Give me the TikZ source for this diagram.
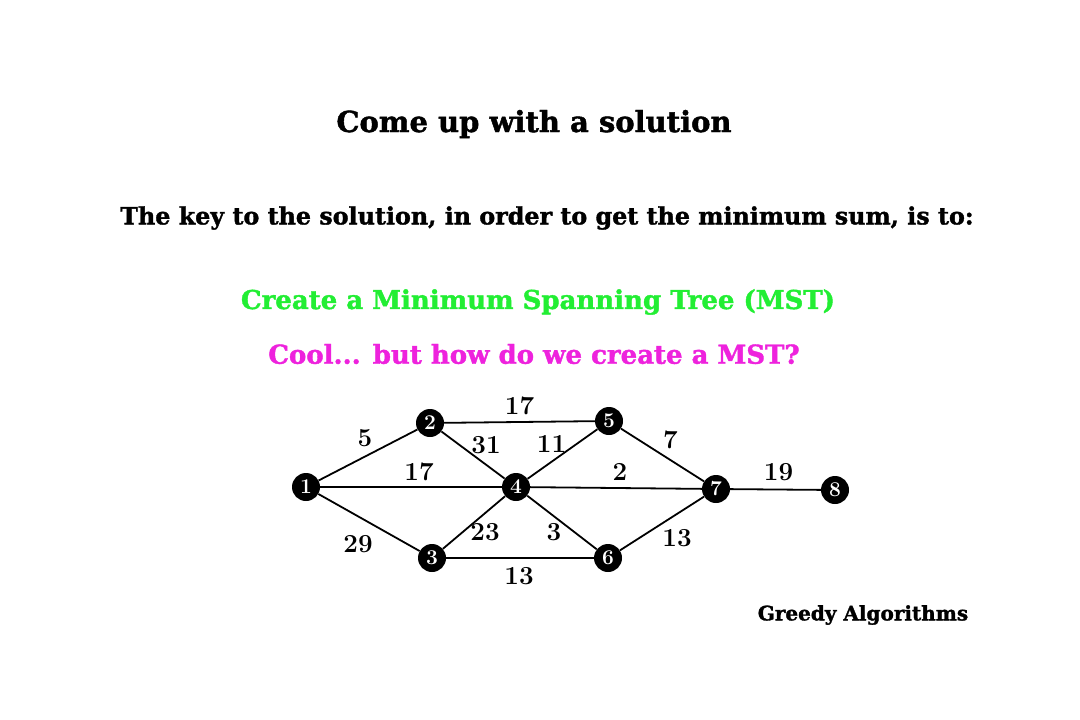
\documentclass[tikz,border=0pt]{standalone}
\usepackage{fontspec}
\newfontfamily\headfont{DejaVu Serif}[BoldFeatures={FakeBold=1.5}]
\usetikzlibrary{positioning}
\definecolor{mstgreen}{HTML}{22EE33}
\definecolor{mstpink}{HTML}{EE22DD}

\begin{document}
\begin{tikzpicture}[
    x=1pt, y=-1pt,
    head/.style={font=\headfont\bfseries\fontsize{29}{33}\selectfont, inner sep=0pt},
    sub/.style={font=\headfont\bfseries\fontsize{23.8}{27}\selectfont, inner sep=0pt},
    vtx/.style={circle, fill=black, inner sep=0pt, minimum size=28pt, text=white, font=\bfseries\fontsize{21}{21}\selectfont},
    lbl/.style={font=\bfseries\fontsize{26}{26}\selectfont, inner sep=0pt},
    edge/.style={draw, line width=1.8pt}
]
    \useasboundingbox[fill=white] (0,0) rectangle (1080,720);

    % headings
    \node[head] (title) at (534,124) {Come up with a solution};
    \node[sub] (key) at (547,218) {The key to the solution, in order to get the minimum sum, is to:};
    \node[sub, text=mstgreen, font=\headfont\bfseries\fontsize{26}{30}\selectfont] (mst) at (538,302) {Create a Minimum Spanning Tree (MST)};
    \node[sub, text=mstpink, font=\headfont\bfseries\fontsize{26}{30}\selectfont] (cool) at (534,354) {Cool... but how do we create a MST?};
    \node[sub, font=\headfont\bfseries\fontsize{20}{23}\selectfont] (greedy) at (863,615) {Greedy Algorithms};

    % vertices
    \node[vtx] (v1) at (306,487) {1};
    \node[vtx] (v2) at (430,423) {2};
    \node[vtx] (v3) at (432,558) {3};
    \node[vtx] (v4) at (516,487) {4};
    \node[vtx] (v5) at (609,421) {5};
    \node[vtx] (v6) at (608,558) {6};
    \node[vtx] (v7) at (716,489) {7};
    \node[vtx] (v8) at (835,490) {8};

    % weighted edges
    \draw[edge] (v1) -- node[lbl, xshift=-3pt, yshift=17pt] {5} (v2);
    \draw[edge] (v1) -- node[lbl, xshift=8pt, yshift=15pt] {17} (v4);
    \draw[edge] (v1) -- node[lbl, xshift=-11pt, yshift=-22pt] {29} (v3);
    \draw[edge] (v2) -- node[lbl, yshift=16pt] {17} (v5);
    \draw[edge] (v2) -- node[lbl, xshift=13pt, yshift=10pt] {31} (v4);
    \draw[edge] (v4) -- node[lbl, xshift=-11pt, yshift=10pt] {11} (v5);
    \draw[edge] (v3) -- node[lbl, xshift=11pt, yshift=-10pt] {23} (v4);
    \draw[edge] (v4) -- node[lbl, xshift=-8pt, yshift=-10pt] {3} (v6);
    \draw[edge] (v3) -- node[lbl, xshift=-1pt, yshift=-18pt] {13} (v6);
    \draw[edge] (v4) -- node[lbl, xshift=4pt, yshift=16pt] {2} (v7);
    \draw[edge] (v5) -- node[lbl, xshift=8pt, yshift=15pt] {7} (v7);
    \draw[edge] (v6) -- node[lbl, xshift=15pt, yshift=-15pt] {13} (v7);
    \draw[edge] (v7) -- node[lbl, xshift=3pt, yshift=17pt] {19} (v8);
\end{tikzpicture}
\end{document}
